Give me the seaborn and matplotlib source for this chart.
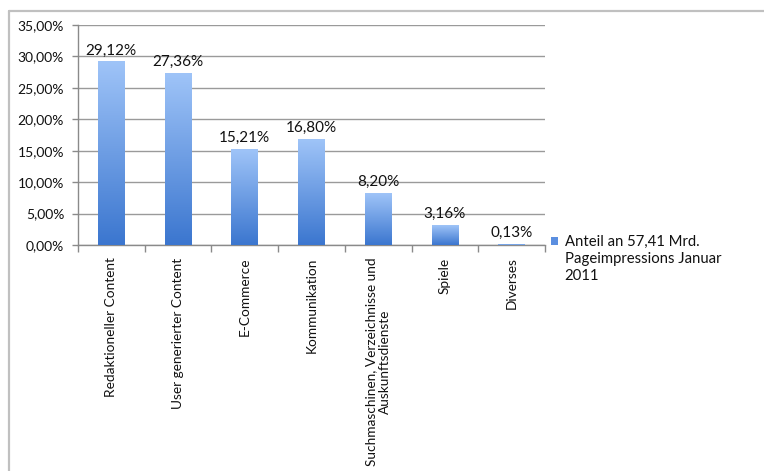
import numpy as np
import pandas as pd
import matplotlib
matplotlib.use("Agg")
import matplotlib.pyplot as plt
import seaborn as sns
from matplotlib.colors import LinearSegmentedColormap
from matplotlib.patches import Patch, Rectangle
from matplotlib.lines import Line2D
from matplotlib.legend_handler import HandlerBase
from matplotlib.ticker import FixedLocator, FuncFormatter

# ---- data ----
categories = [
    "Redaktioneller Content",
    "User generierter Content",
    "E-Commerce",
    "Kommunikation",
    "Suchmaschinen, Verzeichnisse und\nAuskunftsdienste",
    "Spiele",
    "Diverses",
]
values = [29.12, 27.36, 15.21, 16.80, 8.20, 3.16, 0.13]
value_labels = ["29,12%", "27,36%", "15,21%", "16,80%", "8,20%", "3,16%", "0,13%"]
y_ticks = [0, 5, 10, 15, 20, 25, 30, 35]
series_name = "Anteil an 57,41 Mrd.\nPageimpressions Januar\n2011"

sns.set_theme(style="white")
plt.rcParams['font.family'] = ['Lato', 'DejaVu Sans']

W, H = 764, 471
fig = plt.figure(figsize=(W / 100, H / 100), dpi=100)
fig.patch.set_facecolor("white")
ax = fig.add_axes([78 / W, 1 - 245 / H, (545 - 78) / W, (245 - 25) / H])

df = pd.DataFrame({"Kategorie": categories, "Anteil": values})
sns.barplot(data=df, x="Kategorie", y="Anteil", color="#5b8fe0", width=0.4,
            ax=ax, zorder=3)

# gradient fill per bar
cmap = LinearSegmentedColormap.from_list("g", ["#3b76cf", "#9fc4f8"])
grad = np.linspace(0, 1, 256).reshape(-1, 1)
for p in list(ax.patches):
    x0, y0 = p.get_x(), p.get_y()
    w, h = p.get_width(), p.get_height()
    p.set_facecolor("none")
    p.set_edgecolor("none")
    ax.imshow(grad, extent=[x0, x0 + w, y0, y0 + h], origin="lower",
              aspect="auto", cmap=cmap, zorder=3, interpolation="bilinear")

ax.set_xlim(-0.5, len(categories) - 0.5)
ax.set_ylim(0, 35)

TXT = "#111111"
# data labels
for i, (v, lab) in enumerate(zip(values, value_labels)):
    ax.annotate(lab, (i, v), xytext=(0, 3), textcoords="offset points",
                ha="center", va="bottom", fontsize=11, color=TXT)

# y axis
ax.yaxis.set_major_locator(FixedLocator(y_ticks))
ax.yaxis.set_major_formatter(FuncFormatter(lambda v, _: f"{v:.2f}%".replace(".", ",")))
ax.grid(axis="y", color="#9a9a9a", linewidth=1.0, zorder=0)
ax.set_axisbelow(True)
ax.tick_params(axis="y", which="major", left=True, length=4, width=1,
               color="#8a8a8a", labelsize=10, labelcolor=TXT, pad=6)

# x axis: labels at centers, tick marks at boundaries
ax.set_xticks(range(len(categories)))
ax.set_xticklabels(categories, rotation=90, ha="center", va="top",
                   fontsize=9.8, color=TXT, multialignment="center")
ax.tick_params(axis="x", which="major", length=0, pad=9)
ax.set_xticks(np.arange(-0.5, len(categories)), minor=True)
ax.tick_params(axis="x", which="minor", bottom=True, length=5, width=1,
               color="#8a8a8a")

ax.set_xlabel("")
ax.set_ylabel("")
for side in ["top", "right"]:
    ax.spines[side].set_visible(False)
for side in ["left", "bottom"]:
    ax.spines[side].set_color("#8a8a8a")
    ax.spines[side].set_linewidth(1)


# legend: square handle aligned with the first text line
class TopSquareHandler(HandlerBase):
    def create_artists(self, legend, orig_handle, xdescent, ydescent,
                       width, height, fontsize, trans):
        dy = 13.0  # one text line up (points)
        r = Rectangle((-xdescent, -ydescent + dy), width, height,
                      facecolor=orig_handle.get_facecolor(),
                      edgecolor="none", transform=trans)
        return [r]


handle = Patch(facecolor="#5b8fe0", edgecolor="none")
leg = fig.legend(handles=[handle], labels=[series_name], loc="upper left",
                 bbox_to_anchor=(538 / W, 1 - 222 / H), frameon=False,
                 handlelength=0.45, handleheight=0.45, handletextpad=0.45,
                 fontsize=10.7, labelspacing=0.2,
                 handler_map={Patch: TopSquareHandler()})
for t in leg.get_texts():
    t.set_linespacing(1.25)
    t.set_color(TXT)

# outer frame (top and left edges)
fig.add_artist(Line2D([8.5 / W, 1], [1 - 10.5 / H, 1 - 10.5 / H],
                      transform=fig.transFigure, color="#c0c0c0", linewidth=1.6))
fig.add_artist(Line2D([8.5 / W, 8.5 / W], [0, 1 - 10.5 / H],
                      transform=fig.transFigure, color="#c0c0c0", linewidth=1.6))

fig.savefig("out.png", dpi=100, facecolor="white")
